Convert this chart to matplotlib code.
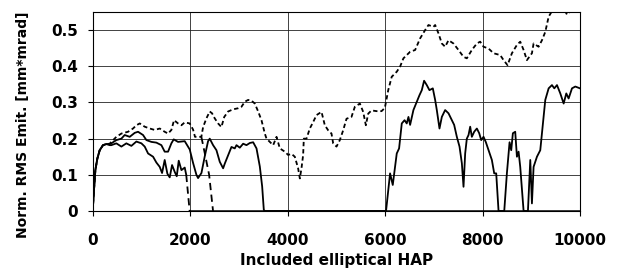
import matplotlib
matplotlib.use("Agg")
import matplotlib.pyplot as plt

# lower solid curve (ends at 2000)
lower_x = [0, 27, 55, 96, 144, 212, 281, 349, 383, 486, 589, 691, 794, 897, 1000, 1068,
           1137, 1240, 1307, 1376, 1424, 1478, 1533, 1581, 1629, 1684, 1725, 1766, 1821,
           1889, 1920, 1990, 10000]
lower_y = [0, 0.058, 0.113, 0.145, 0.168, 0.182, 0.185, 0.182, 0.182, 0.187, 0.178, 0.187,
           0.18, 0.192, 0.187, 0.178, 0.159, 0.15, 0.134, 0.122, 0.105, 0.141, 0.103, 0.093,
           0.127, 0.108, 0.096, 0.139, 0.113, 0.12, 0.1, 0, 0]

# middle solid curve
mid_x = [0, 27, 55, 96, 144, 212, 281, 349, 383, 486, 589, 657, 760, 863, 931, 1034, 1102,
         1205, 1307, 1410, 1478, 1547, 1615, 1663, 1752, 1889, 1992, 2060, 2129, 2163, 2232,
         2300, 2368, 2402, 2471, 2540, 2608, 2677, 2711, 2779, 2848, 2916, 2951, 3019, 3088,
         3156, 3225, 3293, 3362, 3430, 3478, 3512, 3533, 6020, 6103, 6158, 6240, 6288, 6343,
         6400, 6445, 6480, 6514, 6582, 6651, 6706, 6754, 6801, 6856, 6911, 6980, 7028, 7062,
         7117, 7165, 7233, 7302, 7370, 7418, 7473, 7528, 7576, 7610, 7644, 7678, 7713, 7747,
         7781, 7829, 7884, 7932, 7973, 8021, 8069, 8124, 8192, 8240, 8281, 8329, 8446, 8500,
         8555, 8589, 8623, 8671, 8706, 8740, 8774, 8843, 8932, 8980, 9014, 9048, 9117, 9185,
         9240, 9288, 9357, 9425, 9473, 9528, 9596, 9665, 9719, 9767, 9836, 9904, 10000]
mid_y = [0, 0.058, 0.113, 0.145, 0.168, 0.182, 0.185, 0.185, 0.187, 0.196, 0.2, 0.21, 0.205,
         0.216, 0.219, 0.21, 0.196, 0.191, 0.189, 0.182, 0.164, 0.164, 0.187, 0.198, 0.191,
         0.193, 0.17, 0.133, 0.1, 0.091, 0.105, 0.151, 0.193, 0.2, 0.182, 0.168, 0.136, 0.118,
         0.131, 0.154, 0.177, 0.173, 0.182, 0.175, 0.186, 0.182, 0.188, 0.19, 0.173, 0.123,
         0.068, 0.003, 0, 0, 0.104, 0.072, 0.159, 0.173, 0.242, 0.251, 0.242, 0.26, 0.238,
         0.279, 0.302, 0.32, 0.334, 0.36, 0.348, 0.334, 0.339, 0.307, 0.279, 0.228, 0.26,
         0.279, 0.27, 0.251, 0.238, 0.205, 0.178, 0.132, 0.067, 0.159, 0.2, 0.21, 0.233,
         0.205, 0.219, 0.228, 0.215, 0.196, 0.205, 0.19, 0.168, 0.141, 0.104, 0.104, 0, 0,
         0.104, 0.19, 0.168, 0.215, 0.219, 0.15, 0.164, 0.122, 0, 0, 0.141, 0.021, 0.122,
         0.15, 0.168, 0.242, 0.307, 0.339, 0.348, 0.339, 0.348, 0.325, 0.297, 0.325, 0.311,
         0.339, 0.344, 0.339]

# upper dashed curve
top_x = [0, 27, 55, 96, 144, 212, 281, 349, 383, 486, 589, 726, 828, 897, 966, 1068, 1171,
         1273, 1376, 1478, 1547, 1615, 1670, 1752, 1821, 1889, 1992, 2060, 2100, 2230, 2266,
         2334, 2402, 2450, 2505, 2574, 2642, 2700, 2779, 2882, 2985, 3053, 3122, 3190, 3259,
         3327, 3396, 3464, 3533, 3567, 3636, 3704, 3773, 3841, 3943, 4011, 4080, 4148, 4216,
         4251, 4285, 4319, 4333, 4388, 4456, 4525, 4593, 4696, 4764, 4833, 4901, 4935, 5004,
         5072, 5140, 5209, 5311, 5380, 5483, 5551, 5606, 5654, 5722, 5825, 5928, 5996, 6065,
         6137, 6240, 6308, 6377, 6514, 6617, 6719, 6822, 6891, 6993, 7028, 7096, 7165, 7233,
         7302, 7404, 7507, 7610, 7678, 7781, 7884, 7952, 8021, 8124, 8226, 8363, 8432, 8514,
         8603, 8706, 8774, 8843, 8911, 9014, 9048, 9151, 9220, 9288, 9357, 9459, 9562, 9665,
         9733, 9836, 10000]
top_y = [0, 0.058, 0.113, 0.145, 0.168, 0.182, 0.185, 0.186, 0.191, 0.205, 0.214, 0.219,
         0.228, 0.237, 0.242, 0.233, 0.228, 0.224, 0.228, 0.219, 0.214, 0.224, 0.251, 0.242,
         0.237, 0.245, 0.242, 0.225, 0.205, 0.205, 0.232, 0.256, 0.275, 0.27, 0.256, 0.242,
         0.232, 0.26, 0.275, 0.281, 0.284, 0.288, 0.302, 0.307, 0.305, 0.297, 0.275, 0.251,
         0.214, 0.2, 0.191, 0.182, 0.205, 0.173, 0.164, 0.155, 0.158, 0.15, 0.118, 0.09,
         0.118, 0.155, 0.2, 0.2, 0.228, 0.246, 0.265, 0.274, 0.237, 0.223, 0.214, 0.187,
         0.178, 0.196, 0.223, 0.255, 0.26, 0.288, 0.297, 0.274, 0.237, 0.269, 0.278, 0.276,
         0.276, 0.285, 0.334, 0.371, 0.385, 0.399, 0.422, 0.44, 0.445, 0.477, 0.5, 0.514,
         0.509, 0.514, 0.491, 0.463, 0.454, 0.472, 0.463, 0.445, 0.426, 0.422, 0.445, 0.463,
         0.468, 0.454, 0.449, 0.436, 0.431, 0.417, 0.403, 0.436, 0.459, 0.468, 0.445, 0.417,
         0.436, 0.463, 0.454, 0.472, 0.495, 0.537, 0.56, 0.555, 0.56, 0.543, 0.555, 0.56]

# short dashed branch dropping to zero near 2400
drop_x = [2230, 2300, 2390, 2470]
drop_y = [0.205, 0.16, 0.1, 0]

x_ticks = [0, 2000, 4000, 6000, 8000, 10000]
y_ticks = [0, 0.1, 0.2, 0.3, 0.4, 0.5]

plt.rcParams["font.family"] = ["DejaVu Sans"]
plt.rcParams["font.weight"] = "bold"

fig = plt.figure(figsize=(6.17, 2.74), dpi=100)
ax = fig.add_axes([0.1502, 0.2299, 0.7898, 0.7263])

dash = (0, (2.4, 1.6))
ax.plot(top_x, top_y, color="black", lw=1.3, linestyle=dash)
ax.plot(drop_x, drop_y, color="black", lw=1.3, linestyle=(0, (4, 2.5)))

k = lower_x.index(1920)
ax.plot(lower_x[:k + 1], lower_y[:k + 1], color="black", lw=1.3)
ax.plot(lower_x[k:k + 2], lower_y[k:k + 2], color="black", lw=1.3, linestyle=(0, (4, 2.5)))
ax.plot(lower_x[k + 1:], lower_y[k + 1:], color="black", lw=1.8)
ax.plot(mid_x, mid_y, color="black", lw=1.3)

ax.set_xlim(0, 10000)
ax.set_ylim(0, 0.55)
ax.set_xticks(x_ticks)
ax.set_xticklabels([str(v) for v in x_ticks])
ax.set_yticks(y_ticks)
ax.set_yticklabels(["0", "0.1", "0.2", "0.3", "0.4", "0.5"])
ax.grid(True, color="#222222", lw=0.6)
ax.set_axisbelow(True)
for s in ax.spines.values():
    s.set_color("black")
    s.set_linewidth(0.8)
ax.tick_params(axis="both", direction="out", length=3.5, width=0.8, labelsize=11)
ax.tick_params(axis="x", pad=12)
ax.tick_params(axis="y", pad=7)

fig.text(336.5 / 617, 1 - 260 / 274, "Included elliptical HAP", ha="center", va="center",
         fontsize=11, fontweight="bold")
fig.text(23 / 617, 1 - 125 / 274, "Norm. RMS Emit. [mm*mrad]", ha="center", va="center",
         rotation=90, fontsize=10, fontweight="bold")

fig.savefig("out.png", dpi=100)
